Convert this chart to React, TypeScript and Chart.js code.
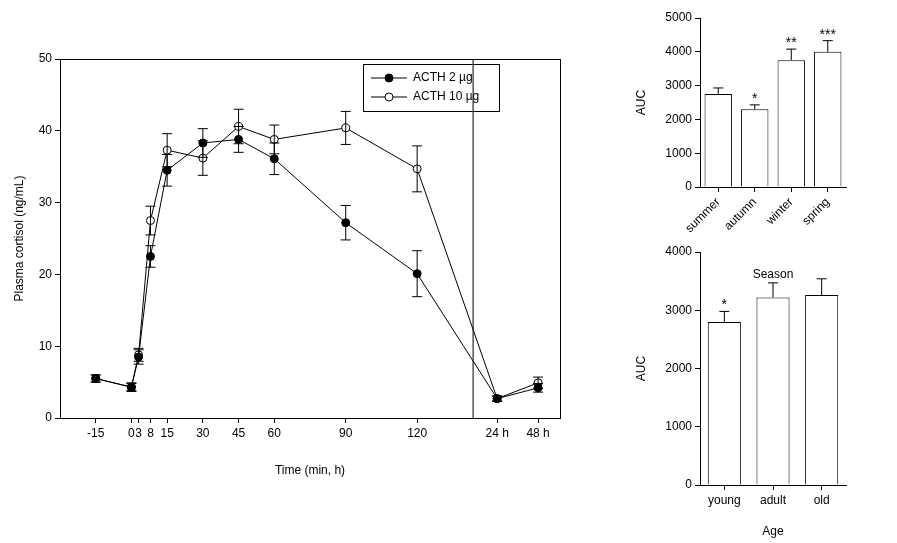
import { useEffect, useRef } from "react"
import { Chart, registerables } from "chart.js"

Chart.register(...registerables)

// time axis: minutes; 24 h and 48 h are placed after the axis break
const timeValues = [-15, 0, 3, 8, 15, 30, 45, 60, 90, 120, 153.6, 170.8]
const timeLabels = ["-15", "0", "3", "8", "15", "30", "45", "60", "90", "120", "24 h", "48 h"]
const acth2 = [5.5, 4.3, 8.5, 22.5, 34.5, 38.3, 38.8, 36.1, 27.2, 20.1, 2.7, 4.2]
const acth2Err = [0.5, 0.6, 1.0, 1.5, 2.2, 2.0, 1.8, 2.2, 2.4, 3.2, 0.4, 0.6]
const acth10 = [5.5, 4.3, 8.8, 27.5, 37.3, 36.2, 40.6, 38.8, 40.4, 34.7, 2.7, 4.9]
const acth10Err = [0.5, 0.5, 0.9, 2.0, 2.3, 2.4, 2.4, 2.0, 2.3, 3.2, 0.3, 0.8]
const breakAt = 143.5

const seasons = ["summer", "autumn", "winter", "spring"]
const seasonAuc = [2750, 2300, 3750, 4000]
const seasonErr = [180, 130, 330, 330]
const seasonStars = ["", "*", "**", "***"]

const ages = ["young", "adult", "old"]
const ageAuc = [2800, 3220, 3260]
const ageErr = [180, 250, 280]
const ageStars = ["*", "", ""]

const FONT = "Liberation Sans, Arial, sans-serif"
Chart.defaults.font.family = FONT
Chart.defaults.font.size = 12
Chart.defaults.color = "#000"

const errorPlugin = (errs: number[][], up: boolean, stars?: string[]) => ({
  id: "err",
  afterDatasetsDraw(chart: any) {
    const ctx = chart.ctx
    const ys = chart.scales.y
    ctx.save()
    ctx.strokeStyle = "#000"
    ctx.lineWidth = 1
    chart.data.datasets.forEach((ds: any, di: number) => {
      const meta = chart.getDatasetMeta(di)
      meta.data.forEach((el: any, i: number) => {
        const v = typeof ds.data[i] === "number" ? ds.data[i] : ds.data[i].y
        const e = errs[di][i]
        const x = el.x
        const top = ys.getPixelForValue(v + e)
        const bot = up ? ys.getPixelForValue(v) : ys.getPixelForValue(v - e)
        ctx.beginPath()
        ctx.moveTo(x, top); ctx.lineTo(x, bot)
        ctx.moveTo(x - 5, top); ctx.lineTo(x + 5, top)
        if (!up) { ctx.moveTo(x - 5, bot); ctx.lineTo(x + 5, bot) }
        ctx.stroke()
        if (stars && stars[i]) {
          ctx.fillStyle = "#000"
          ctx.font = `14px ${FONT}`
          ctx.textAlign = "center"
          ctx.fillText(stars[i], x, top - 2)
        }
      })
    })
    ctx.restore()
  },
})

const mainExtras = {
  id: "mainExtras",
  afterDraw(chart: any) {
    const ctx = chart.ctx
    const { top, bottom, left, right } = chart.chartArea
    const xb = chart.scales.x.getPixelForValue(breakAt)
    ctx.save()
    ctx.strokeStyle = "#000"
    ctx.lineWidth = 1
    ctx.beginPath(); ctx.moveTo(xb, top); ctx.lineTo(xb, bottom); ctx.stroke()
    ctx.strokeRect(Math.round(left) + 0.5, Math.round(top) + 0.5, Math.round(right - left), Math.round(bottom - top))
    // legend box
    const lx = 363, ly = 64
    ctx.strokeRect(lx + 0.5, ly + 0.5, 136, 47)
    ctx.font = `12px ${FONT}`
    ctx.textBaseline = "middle"
    ctx.fillStyle = "#000"
    ;[["ACTH 2 µg", true], ["ACTH 10 µg", false]].forEach(([t, filled]: any, i) => {
      const y = ly + 14 + i * 19
      ctx.beginPath(); ctx.moveTo(lx + 8, y); ctx.lineTo(lx + 44, y); ctx.stroke()
      ctx.beginPath(); ctx.arc(lx + 26, y, 4, 0, Math.PI * 2)
      ctx.fillStyle = filled ? "#000" : "#fff"; ctx.fill(); ctx.stroke()
      ctx.fillStyle = "#000"
      ctx.fillText(t, lx + 50, y)
    })
    ctx.restore()
  },
}

function useChart(make: (c: HTMLCanvasElement) => Chart) {
  const ref = useRef<HTMLCanvasElement>(null)
  useEffect(() => {
    if (!ref.current) return
    const c = make(ref.current)
    return () => c.destroy()
  }, [])
  return ref
}

const axisBorder = { display: true, color: "#000", width: 1 }
const tickGrid = { display: true, drawOnChartArea: false, drawTicks: true, tickLength: 5, color: "#000" }

function barChart(canvas: HTMLCanvasElement, labels: string[], vals: number[], errs: number[], stars: string[], title: string, ymax: number, opts: any) {
  return new Chart(canvas, {
    type: "bar",
    data: { labels, datasets: [{ data: vals, backgroundColor: "#fff", borderColor: "#000", borderWidth: 1, barPercentage: opts.bp, categoryPercentage: 1 }] },
    options: {
      animation: false, responsive: false,
      layout: { padding: { top: opts.top, right: 51, left: 0, bottom: 0 } },
      plugins: { legend: { display: false }, tooltip: { enabled: false } },
      scales: {
        x: {
          grid: { ...tickGrid, offset: false }, border: axisBorder,
          ticks: { maxRotation: opts.rot, minRotation: opts.rot, font: { size: 12 } },
          title: { display: true, text: title, font: { size: 12 } },
          afterFit: (s: any) => { s.height = opts.xh },
        },
        y: {
          min: 0, max: ymax, border: axisBorder,
          grid: tickGrid,
          ticks: { stepSize: 1000, callback: (v: any) => String(v) },
          title: { display: true, text: "AUC", font: { size: 12 } },
          afterFit: (s: any) => { s.width = 70 },
        },
      },
    },
    plugins: [errorPlugin([errs], true, stars)],
  } as any)
}

export default function App() {
  document.body.style.margin = "0"
  const mainRef = useChart((c) => new Chart(c, {
    type: "line",
    data: {
      datasets: [
        { label: "ACTH 2 µg", data: timeValues.map((x, i) => ({ x, y: acth2[i] })), borderColor: "#000", borderWidth: 1, pointRadius: 4, pointBackgroundColor: "#000", pointBorderColor: "#000" },
        { label: "ACTH 10 µg", data: timeValues.map((x, i) => ({ x, y: acth10[i] })), borderColor: "#000", borderWidth: 1, pointRadius: 4, pointBackgroundColor: "#fff", pointBorderColor: "#000" },
      ],
    },
    options: {
      animation: false, responsive: false,
      layout: { padding: { top: 59, right: 20, left: 8, bottom: 0 } },
      plugins: { legend: { display: false }, tooltip: { enabled: false } },
      scales: {
        x: {
          type: "linear", min: -30, max: 180, border: axisBorder, grid: tickGrid,
          afterBuildTicks: (s: any) => { s.ticks = timeValues.map((v) => ({ value: v })) },
          ticks: { autoSkip: false, maxRotation: 0, callback: (v: any) => timeLabels[timeValues.indexOf(v)] ?? "" },
          title: { display: true, text: "Time (min, h)", font: { size: 12 } },
          afterFit: (s: any) => { s.height = 64 },
        },
        y: {
          min: 0, max: 50, border: axisBorder, grid: tickGrid,
          ticks: { stepSize: 10 },
          title: { display: true, text: "Plasma cortisol (ng/mL)", font: { size: 12 } },
          afterFit: (s: any) => { s.width = 52 },
        },
      },
    },
    plugins: [errorPlugin([acth2Err, acth10Err], false), mainExtras],
  } as any))
  const seasonRef = useChart((c) => barChart(c, seasons, seasonAuc, seasonErr, seasonStars, "Season", 5000, { bp: 0.75, top: 12, xh: 99, rot: 45 }))
  const ageRef = useChart((c) => barChart(c, ages, ageAuc, ageErr, ageStars, "Age", 4000, { bp: 0.68, top: 12, xh: 58, rot: 0 }))
  return (
    <div style={{ position: "relative", width: 897, height: 543, background: "#fff" }}>
      <canvas ref={mainRef} width={580} height={482} style={{ position: "absolute", left: 0, top: 0 }} />
      <canvas ref={seasonRef} width={267} height={280} style={{ position: "absolute", left: 630, top: 6 }} />
      <canvas ref={ageRef} width={267} height={303} style={{ position: "absolute", left: 630, top: 240 }} />
    </div>
  )
}
